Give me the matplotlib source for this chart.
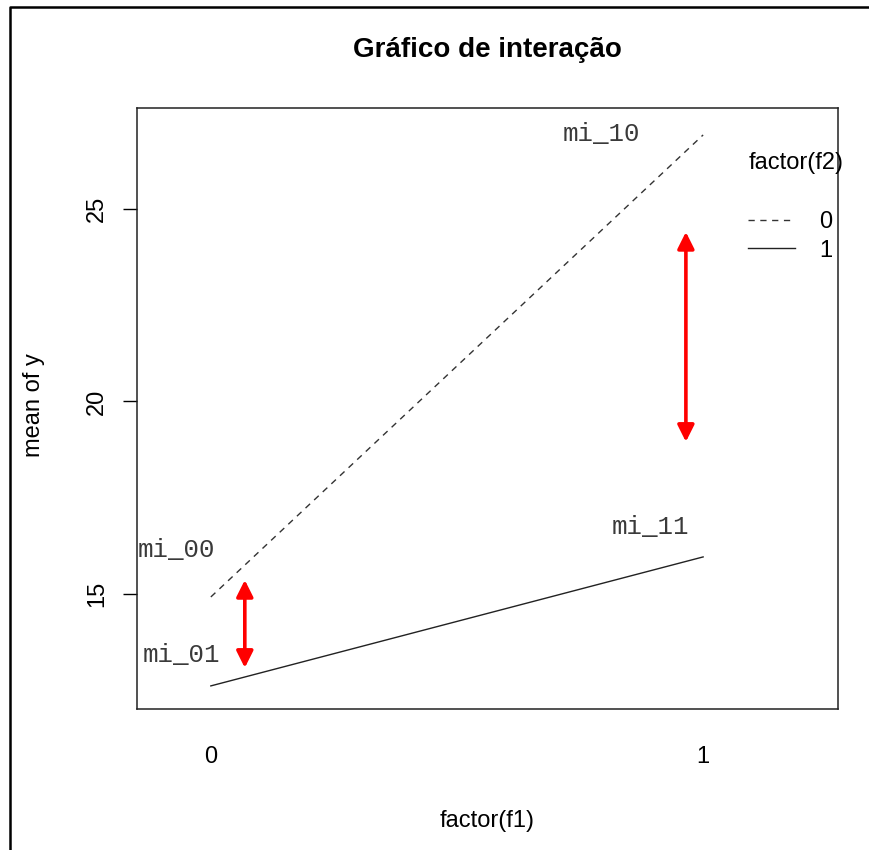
import matplotlib
matplotlib.use('Agg')
import matplotlib.pyplot as plt
from matplotlib.lines import Line2D

plt.rcParams['font.family'] = ['Liberation Sans', 'DejaVu Sans']

# Médias por nível de f1 (0 e 1), para cada nível de f2
f1_niveis = [0, 1]
media_f2_0 = [14.92, 26.92]
media_f2_1 = [12.61, 15.96]

# Rótulos das médias
rotulos = ['mi_00', 'mi_01', 'mi_10', 'mi_11']
rot_x = [-0.148, -0.138, 0.715, 0.815]
rot_y = [16.14, 13.42, 26.95, 16.74]

# Setas vermelhas (diferença entre os níveis de f2)
seta_x = [0.069, 0.965]
seta_y0 = [13.08, 18.95]
seta_y1 = [15.36, 24.4]

fig = plt.figure(figsize=(8.7, 8.5), dpi=100)
ax = fig.add_axes([137/870, 1 - 709/850, 701/870, 601/850])

l0, = ax.plot(f1_niveis, media_f2_0, color='#333333', lw=1.0, dashes=(4.5, 4))
l1, = ax.plot(f1_niveis, media_f2_1, color='#222222', lw=1.0)

for txt, x, y in zip(rotulos, rot_x, rot_y):
    ax.text(x, y, txt, family='Liberation Mono', fontsize=18.5,
            ha='left', va='center', color='#3a3a3a')

for x, y0, y1 in zip(seta_x, seta_y0, seta_y1):
    ax.annotate('', xy=(x, y1), xytext=(x, y0),
                arrowprops=dict(arrowstyle='<|-|>', color='red', lw=2.6,
                                mutation_scale=25, shrinkA=0, shrinkB=0))

ax.set_xlim(-0.150, 1.274)
ax.set_ylim(12.01, 27.62)
ax.set_xticks(f1_niveis)
ax.set_xticklabels(['0', '1'])
ax.set_yticks([15, 20, 25])
ax.tick_params(axis='x', length=0, pad=26.5, labelsize=17)
ax.tick_params(axis='y', length=10, width=1.0, pad=11, labelsize=17, labelrotation=90)
for lab in ax.get_yticklabels():
    lab.set_va('center')
for s in ax.spines.values():
    s.set_linewidth(1.1)
    s.set_color('#222222')

ax.set_xlabel('factor(f1)', fontsize=17)
ax.xaxis.set_label_coords(0.5, -0.168)
ax.set_ylabel('mean of y', fontsize=17)
ax.yaxis.set_label_coords(-0.131, 0.506)

leg = ax.legend([l0, l1], ['0', '1'], title='factor(f2)\n', loc='upper left',
                bbox_to_anchor=(0.872, 0.927), frameon=False, fontsize=17,
                title_fontsize=17, alignment='left', borderpad=0,
                borderaxespad=0, handlelength=2.0, handletextpad=1.0,
                labelspacing=0.28)
leg.get_title().set_linespacing(1.5)
leg.set_clip_on(False)

fig.text(487/870, 1 - 50/850, 'Gráfico de interação', ha='center', va='center',
         fontsize=20, fontweight='bold')

# moldura externa da captura
fig.add_artist(Line2D([10/870, 10/870, 1.0], [0.0, 1 - 7/850, 1 - 7/850],
                      transform=fig.transFigure, color='black', lw=1.8))

fig.savefig('out.png', dpi=100)
